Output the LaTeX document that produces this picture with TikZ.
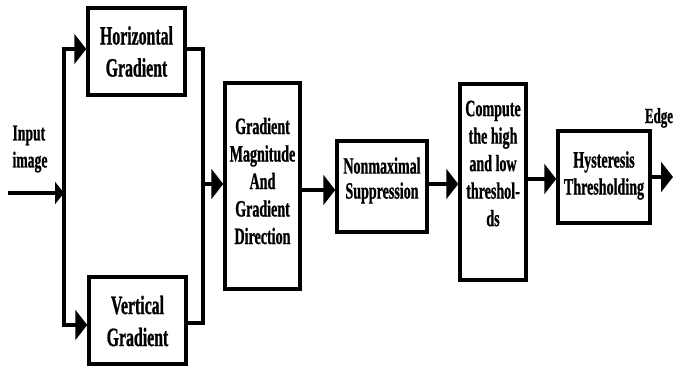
\documentclass[tikz,border=0pt]{standalone}
\usepackage{fontspec}
\setmainfont{Liberation Serif}[FakeStretch=0.6, BoldFeatures={FakeBold=0.8}]
\usetikzlibrary{arrows.meta}
\begin{document}
\begin{tikzpicture}[x=1pt,y=-1pt,
  box/.style={draw, line width=3.5pt, inner sep=0pt},
  lbl/.style={align=center, inner sep=0pt, font=\bfseries\fontsize{23.4}{27.5}\selectfont},
  big/.style={font=\bfseries\fontsize{26.4}{32}\selectfont},
  wire/.style={line width=4pt},
  arr/.style={wire, -{Triangle[length=12pt,width=30pt]}},
  sarr/.style={wire, -{Triangle[length=9pt,width=22pt]}},
]
\useasboundingbox (0,0) rectangle (675,369);
% boxes
\node[box, minimum width=97pt, minimum height=87pt] (hg) at (136.5,51.5) {};
\node[box, minimum width=97pt, minimum height=87pt] (vg) at (137.5,320.5) {};
\node[box, minimum width=75pt, minimum height=206pt] (gm) at (262.5,186) {};
\node[box, minimum width=90pt, minimum height=91pt] (nm) at (382,186.5) {};
\node[box, minimum width=66pt, minimum height=196pt] (ct) at (493,182) {};
\node[box, minimum width=92pt, minimum height=92pt] (hy) at (604,177) {};
% texts
\node[lbl, big] (hgt) at (136.5,51.5) {Horizontal\\Gradient};
\node[lbl, big] (vgt) at (137.5,321) {Vertical\\Gradient};
\node[lbl] (gmt) at (262.5,181) {Gradient\\Magnitude\\And\\Gradient\\Direction};
\node[lbl, font=\bfseries\fontsize{23.4}{25}\selectfont] (nmt) at (382,180.5) {Nonmaximal\\Suppression};
\node[lbl] (ctt) at (493,163.5) {Compute\\the high\\and low\\threshol-\\ds};
\node[lbl, font=\bfseries\fontsize{23.4}{27}\selectfont] (hyt) at (604,175.5) {Hysteresis\\Thresholding};
\node[lbl, align=left, font=\bfseries\fontsize{22.8}{27}\selectfont] (inp) at (30,149) {Input\\image};
\node[lbl, anchor=base, font=\bfseries\fontsize{21.6}{22}\selectfont] (edge) at (659,123) {Edge};
% coordinates
\coordinate (in) at (8,193);
\coordinate (s) at (64,193);
\coordinate (st) at (64,49);
\coordinate (sb) at (64,325);
\coordinate (mt) at (203,49);
\coordinate (mb) at (203,323);
\coordinate (mm) at (203,184);
\coordinate (y1) at (0,190);
\coordinate (y2) at (0,184);
\coordinate (y3) at (0,179);
\coordinate (out) at (673,177);
% connectors
\draw[sarr] (in) -- (s);
\draw[wire, line cap=rect] (st) -- (sb);
\draw[arr] (st) -- (st -| hg.west);
\draw[arr] (sb) -- (sb -| vg.west);
\draw[wire, line join=miter] (mt -| hg.east) -- (mt) -- (mb) -- (mb -| vg.east);
\draw[arr] (mm) -- (mm -| gm.west);
\draw[arr] (gm.east |- y1) -- (nm.west |- y1);
\draw[arr] (nm.east |- y2) -- (ct.west |- y2);
\draw[arr] (ct.east |- y3) -- (hy.west |- y3);
\draw[arr] (hy.east |- out) -- (out);
\end{tikzpicture}
\end{document}
